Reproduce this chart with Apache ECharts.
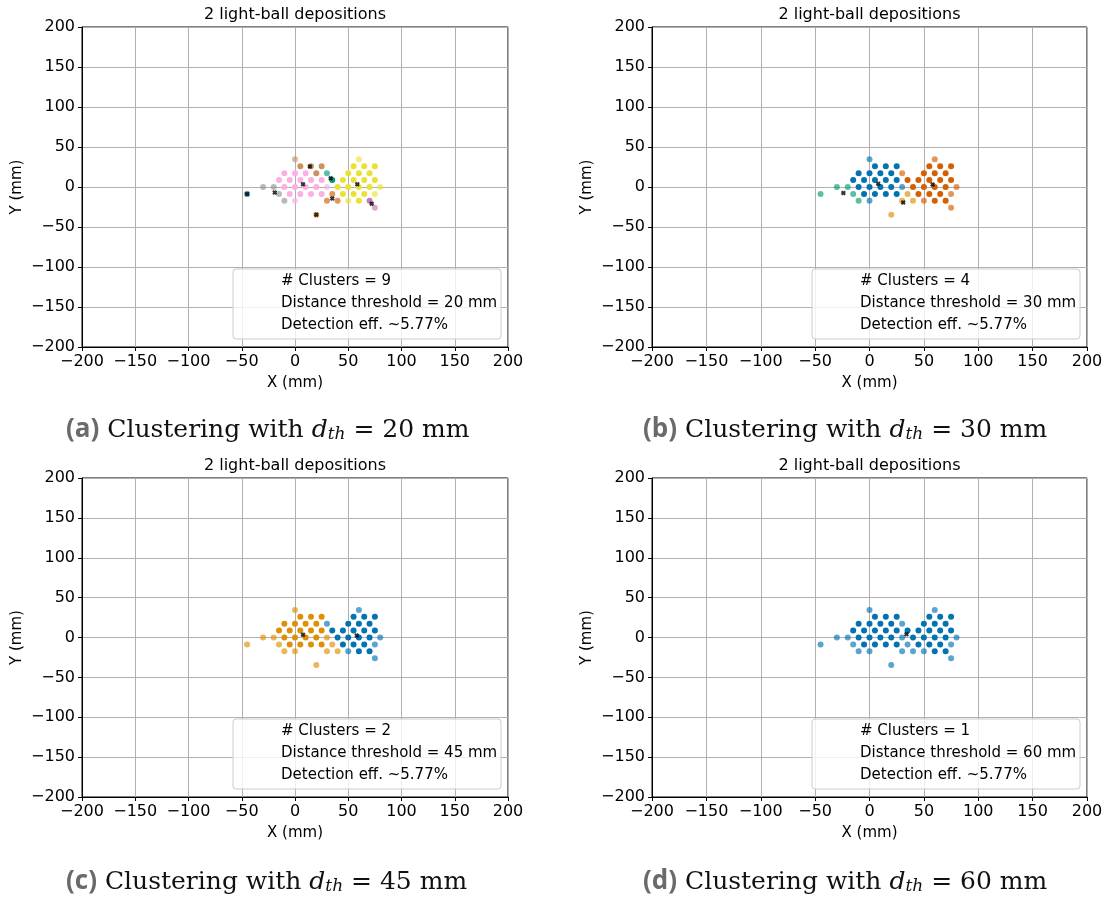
<!DOCTYPE html>
<html>
<head>
<meta charset="utf-8">
<script src="https://cdn.jsdelivr.net/npm/echarts@6/dist/echarts.min.js"></script>
<style>html,body{margin:0;padding:0;background:#fff;}#c{width:1107px;height:897px;}</style>
</head>
<body>
<div id="c"></div>
<script>
// ---- data ----
const panelLetters = ['a', 'b', 'c', 'd'];
const thresholds = [20, 30, 45, 60];
const nClusters = [9, 4, 2, 1];
const detEff = ['5.77', '5.77', '5.77', '5.77'];
const titleText = '2 light-ball depositions';
const axisTicks = [-200, -150, -100, -50, 0, 50, 100, 150, 200];

const sensorX = [0, 60,
  5, 15, 25, 55, 65, 75,
  -10, 0, 10, 20, 30, 50, 60, 70,
  -15, -5, 5, 15, 25, 35, 45, 55, 65, 75,
  -30, -20, -10, 0, 10, 20, 30, 40, 50, 60, 70, 80,
  -45, -15, -5, 5, 15, 25, 35, 45, 55, 65, 75,
  -10, 0, 30, 40, 50, 60, 70,
  75,
  20];
const sensorY = [34.6, 34.6,
  26, 26, 26, 26, 26, 26,
  17.3, 17.3, 17.3, 17.3, 17.3, 17.3, 17.3, 17.3,
  8.7, 8.7, 8.7, 8.7, 8.7, 8.7, 8.7, 8.7, 8.7, 8.7,
  0, 0, 0, 0, 0, 0, 0, 0, 0, 0, 0, 0,
  -8.7, -8.7, -8.7, -8.7, -8.7, -8.7, -8.7, -8.7, -8.7, -8.7, -8.7,
  -17.3, -17.3, -17.3, -17.3, -17.3, -17.3, -17.3,
  -26,
  -34.6];
// 1 = faint (low signal) sensor, 0 = strong
const weak = [1, 1,
  0, 0, 0, 0, 0, 0,
  0, 0, 0, 0, 1, 0, 0, 0,
  0, 0, 0, 0, 0, 0, 0, 0, 0, 0,
  1, 1, 0, 0, 0, 0, 1, 0, 0, 0, 0, 1,
  1, 1, 0, 0, 0, 0, 1, 0, 0, 0, 1,
  1, 1, 1, 1, 1, 0, 0,
  1,
  1];

const labelsA = [5, 8,
  5, 5, 5, 8, 8, 8,
  6, 6, 6, 5, 2, 8, 8, 8,
  6, 6, 6, 6, 6, 2, 8, 8, 8, 8,
  7, 7, 6, 6, 6, 6, 6, 8, 8, 8, 8, 8,
  0, 7, 6, 6, 6, 6, 3, 8, 8, 8, 8,
  7, 6, 3, 3, 8, 8, 4,
  4,
  1];
const labelsB = [0, 3,
  0, 0, 0, 3, 3, 3,
  0, 0, 0, 0, 3, 3, 3, 3,
  0, 0, 0, 0, 0, 3, 3, 3, 3, 3,
  2, 2, 0, 0, 0, 0, 0, 3, 3, 3, 3, 3,
  2, 2, 0, 0, 0, 0, 1, 3, 3, 3, 3,
  2, 0, 1, 1, 3, 3, 3,
  3,
  1];
const labelsC = [1, 0,
  1, 1, 1, 0, 0, 0,
  1, 1, 1, 1, 0, 0, 0, 0,
  1, 1, 1, 1, 1, 0, 0, 0, 0, 0,
  1, 1, 1, 1, 1, 1, 1, 0, 0, 0, 0, 0,
  1, 1, 1, 1, 1, 1, 1, 0, 0, 0, 0,
  1, 1, 1, 1, 0, 0, 0,
  0,
  1];
const labelsD = [0, 0,
  0, 0, 0, 0, 0, 0,
  0, 0, 0, 0, 0, 0, 0, 0,
  0, 0, 0, 0, 0, 0, 0, 0, 0, 0,
  0, 0, 0, 0, 0, 0, 0, 0, 0, 0, 0, 0,
  0, 0, 0, 0, 0, 0, 0, 0, 0, 0, 0,
  0, 0, 0, 0, 0, 0, 0,
  0,
  0];

const centAx = [-45, 20, 33.5, 35, 72, 14, 7.5, -19, 58.5];
const centAy = [-8.7, -34.6, 11, -14.5, -21, 25.5, 3.5, -7, 3.5];
const centBx = [8, 31, -24, 58];
const centBy = [4, -19.5, -7.5, 3];
const centCx = [58, 7.5];
const centCy = [2.5, 3.5];
const centDx = [34];
const centDy = [4];

// ---- styling ----
const palette = ['#0173b2', '#de8f05', '#029e73', '#d55e00', '#cc78bc', '#ca9161', '#fbafe4', '#949494', '#ece133', '#56b4e9'];
const labelsAll = [labelsA, labelsB, labelsC, labelsD];
const centX = [centAx, centBx, centCx, centDx];
const centY = [centAy, centBy, centCy, centDy];
const panels = [
  {left: 82, top: 27, width: 426, height: 320, capX: 66, capY: 426},
  {left: 652, top: 27, width: 435, height: 320, capX: 643, capY: 426},
  {left: 82, top: 478, width: 426, height: 319, capX: 66, capY: 878},
  {left: 652, top: 478, width: 435, height: 319, capX: 643, capY: 878}
];
const FONT = '"DejaVu Sans", sans-serif';
const fmt = v => (v < 0 ? '\u2212' + (-v) : String(v));
const xMark = 'path://M0,3L3,0L5,2L7,0L10,3L8,5L10,7L7,10L5,8L3,10L0,7L2,5Z';

const grids = [], xAxes = [], yAxes = [], series = [], graphics = [];
panels.forEach((p, i) => {
  grids.push({left: p.left, top: p.top, width: p.width, height: p.height, show: true,
    borderColor: '#000', borderWidth: 1, backgroundColor: '#fff'});
  const axBase = {
    gridIndex: i, type: 'value', min: axisTicks[0], max: axisTicks[axisTicks.length - 1], interval: 50,
    showMinLabel: true, showMaxLabel: true,
    axisLine: {show: true, onZero: false, lineStyle: {color: '#000', width: 1}},
    axisTick: {show: true, inside: false, length: 4, lineStyle: {color: '#000', width: 1}},
    axisLabel: {color: '#000', fontFamily: FONT, fontSize: 16, formatter: fmt, margin: 7},
    splitLine: {show: true, lineStyle: {color: '#b0b0b0', width: 1}},
    nameLocation: 'middle',
    nameTextStyle: {color: '#000', fontFamily: FONT, fontSize: 15}
  };
  xAxes.push(Object.assign({}, axBase, {name: 'X (mm)', nameGap: 29}));
  yAxes.push(Object.assign({}, axBase, {name: 'Y (mm)', nameGap: 57, nameRotate: 90}));

  const labels = labelsAll[i];
  const clusters = [...new Set(labels)].sort((a, b) => a - b);
  clusters.forEach(k => {
    const data = [];
    labels.forEach((l, j) => {
      if (l === k) data.push({value: [sensorX[j], sensorY[j]], itemStyle: {opacity: weak[j] ? 0.65 : 1}});
    });
    series.push({type: 'scatter', xAxisIndex: i, yAxisIndex: i, data: data, symbol: 'circle', symbolSize: 6,
      itemStyle: {color: palette[k]}, silent: true, z: 2});
  });
  series.push({type: 'scatter', xAxisIndex: i, yAxisIndex: i,
    data: centX[i].map((x, j) => [x, centY[i][j]]),
    symbol: xMark, symbolSize: 5, itemStyle: {color: '#000'}, silent: true, z: 5});

  // title
  graphics.push({type: 'text', x: p.left + p.width / 2, y: p.top - 4, z: 10,
    style: {text: titleText, font: '16px ' + FONT, fill: '#000', align: 'center', verticalAlign: 'bottom'}});
  // legend-like info box
  const bw = 268, bh = 70;
  const bx = p.left + p.width - 7 - bw, by = p.top + p.height - 8 - bh;
  graphics.push({type: 'rect', z: 10, shape: {x: bx, y: by, width: bw, height: bh, r: 3},
    style: {fill: 'rgba(255,255,255,0.8)', stroke: '#cccccc', lineWidth: 1}});
  const lines = ['# Clusters = ' + nClusters[i], 'Distance threshold = ' + thresholds[i] + ' mm', 'Detection eff. ~' + detEff[i] + '%'];
  lines.forEach((t, j) => {
    graphics.push({type: 'text', z: 11, x: bx + 48, y: by + 12 + j * 22,
      style: {text: t, font: '15px ' + FONT, fill: '#000', align: 'left', verticalAlign: 'middle'}});
  });
  // caption
  const serif = '"DejaVu Serif", serif';
  graphics.push({type: 'text', z: 11, x: p.capX, y: p.capY,
    style: {
      text: '{lab|(' + panelLetters[i] + ')}{txt| Clustering with }{it|d}{sub|th}{txt| = ' + thresholds[i] + ' mm}',
      verticalAlign: 'middle', align: 'left',
      rich: {
        lab: {fontFamily: '"Open Sans", "Noto Sans", sans-serif', fontWeight: 'bold', fontSize: 26, fill: '#6a6a6a', color: '#6a6a6a', lineHeight: 34, verticalAlign: 'bottom'},
        txt: {fontFamily: serif, fontSize: 25, fill: '#111', color: '#111', lineHeight: 34, verticalAlign: 'bottom'},
        it: {fontFamily: serif, fontStyle: 'italic', fontSize: 25, fill: '#111', color: '#111', lineHeight: 34, verticalAlign: 'bottom'},
        sub: {fontFamily: serif, fontStyle: 'italic', fontSize: 17, fill: '#111', color: '#111', lineHeight: 20, verticalAlign: 'bottom'}
      }
    }});
});

const chart = echarts.init(document.getElementById('c'), null, {renderer: 'canvas'});
chart.setOption({
  animation: false,
  backgroundColor: '#fff',
  grid: grids, xAxis: xAxes, yAxis: yAxes, series: series, graphic: graphics
});
</script>
</body>
</html>
